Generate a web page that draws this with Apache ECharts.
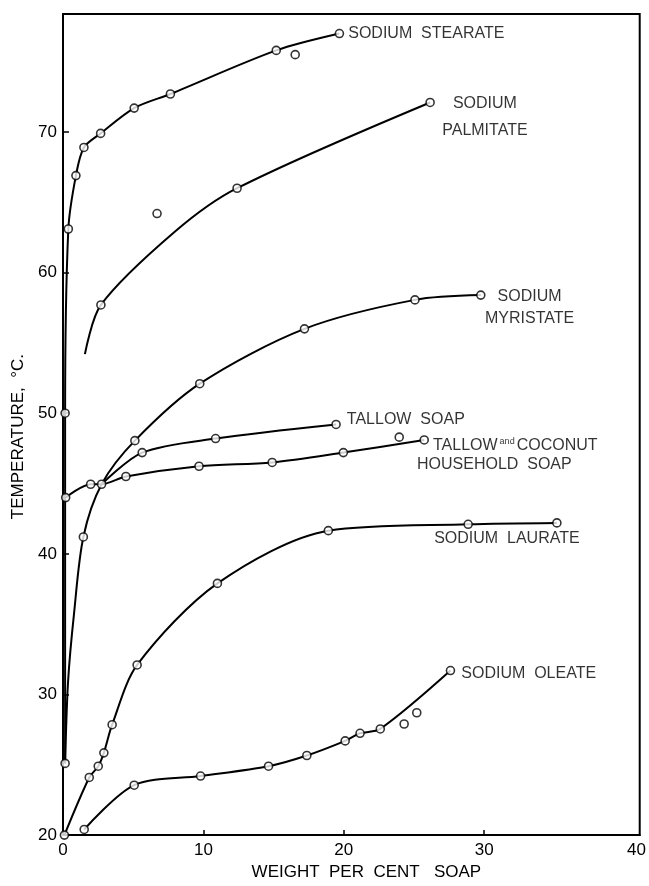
<!DOCTYPE html>
<html><head><meta charset="utf-8">
<script src="https://cdn.jsdelivr.net/npm/echarts@6/dist/echarts.min.js"></script>
<style>html,body{margin:0;padding:0;background:#fff}#c{width:649px;height:886px}</style>
</head><body><div id="c"></div>
<script>
// ---- Data (weight per cent soap, temperature °C) ----
// Curves: traced line paths; Points: measured circles
const stearateCurveX = [0.15, 0.15, 0.38, 0.92, 1.49, 2.68, 5.07, 7.65, 15.19, 19.69];
const stearateCurveY = [25.1, 50.0, 63.1, 66.9, 68.9, 69.9, 71.7, 72.7, 75.8, 77.0];
const stearatePointsX = [0.15, 0.15, 0.38, 0.92, 1.49, 2.68, 5.07, 7.65, 15.19, 16.54, 19.69];
const stearatePointsY = [25.1, 50.0, 63.1, 66.9, 68.9, 69.9, 71.7, 72.7, 75.8, 75.5, 77.0];

const palmitateCurveX = [1.56, 2.70, 7.96, 12.40, 26.15];
const palmitateCurveY = [54.2, 57.7, 62.9, 66.0, 72.1];
const palmitatePointsX = [2.70, 6.70, 12.40, 26.15];
const palmitatePointsY = [57.7, 64.2, 66.0, 72.1];

const myristateCurveX = [0.15, 0.36, 0.78, 1.45, 2.75, 5.12, 9.74, 17.2, 25.07, 29.76];
const myristateCurveY = [25.1, 30.9, 35.7, 41.2, 44.95, 48.05, 52.1, 56.0, 58.06, 58.4];
const myristatePointsX = [1.45, 2.75, 5.12, 9.74, 17.2, 25.07, 29.76];
const myristatePointsY = [41.2, 44.95, 48.05, 52.1, 56.0, 58.06, 58.4];

const tallowCurveX = [2.75, 5.64, 10.87, 19.45];
const tallowCurveY = [44.95, 47.2, 48.2, 49.2];
const tallowPointsX = [5.64, 10.87, 19.45];
const tallowPointsY = [47.2, 48.2, 49.2];

const householdCurveX = [0.19, 1.97, 2.75, 4.48, 9.69, 14.9, 19.97, 25.73];
const householdCurveY = [44.0, 44.95, 44.95, 45.5, 46.23, 46.5, 47.2, 48.1];
const householdPointsX = [0.19, 1.97, 4.48, 9.69, 14.9, 19.97, 23.95, 25.73];
const householdPointsY = [44.0, 44.95, 45.5, 46.23, 46.5, 47.2, 48.3, 48.1];

const laurateCurveX = [0.1, 1.87, 2.51, 2.91, 3.5, 5.28, 11.0, 18.9, 28.86, 35.18];
const laurateCurveY = [20.0, 24.1, 24.9, 25.85, 27.85, 32.1, 37.9, 41.65, 42.1, 42.2];
const lauratePointsX = laurateCurveX;
const lauratePointsY = laurateCurveY;

const oleateCurveX = [1.51, 5.07, 9.8, 14.64, 17.37, 20.1, 21.16, 22.6, 27.6];
const oleateCurveY = [20.4, 23.55, 24.2, 24.9, 25.66, 26.7, 27.24, 27.55, 31.7];
const oleatePointsX = [1.51, 5.07, 9.8, 14.64, 17.37, 20.1, 21.16, 22.6, 24.3, 25.2, 27.6];
const oleatePointsY = [20.4, 23.55, 24.2, 24.9, 25.66, 26.7, 27.24, 27.55, 27.9, 28.7, 31.7];

const xTickLabels = [0, 10, 20, 30, 40];
const xTickMarks = [10, 20, 30];
const yTickLabels = [20, 30, 40, 50, 60, 70];
const yTickMarks = [30, 40, 50, 60, 70];

const FONT = 'Liberation Sans';
const LBL = {color: '#000', fontFamily: FONT, fontSize: 16};

// Label settings for the end circle of each curve
const endLabels = {
  stearate: Object.assign({show: true, position: 'right', distance: 4, formatter: 'SODIUM  STEARATE'}, LBL),
  palmitate: Object.assign({show: true, position: 'right', distance: 5, align: 'center', offset: [45, 14.5], lineHeight: 27, formatter: 'SODIUM\nPALMITATE'}, LBL),
  myristate: Object.assign({show: true, position: 'right', distance: 5, align: 'center', offset: [39, 12.5], lineHeight: 22, formatter: 'SODIUM\nMYRISTATE'}, LBL),
  tallow: Object.assign({show: true, position: 'right', distance: 5, offset: [1, -5], formatter: 'TALLOW  SOAP'}, LBL),
  household: Object.assign({show: true, position: 'right', distance: 5, align: 'left', offset: [-17, 15], lineHeight: 19,
    formatter: '{p|TALLOW}{s|and}{t|COCONUT}\n{t|HOUSEHOLD  SOAP}',
    rich: {
      p: {fontFamily: FONT, fontSize: 16, color: '#000', padding: [0, 0, 0, 16], lineHeight: 19},
      s: {fontFamily: FONT, fontSize: 9, color: '#000', padding: [0, 2, 8, 2], lineHeight: 19},
      t: {fontFamily: FONT, fontSize: 16, color: '#000', lineHeight: 19}
    }}, LBL),
  laurate: Object.assign({show: true, position: 'bottom', distance: 5, offset: [-50, -2], formatter: 'SODIUM  LAURATE'}, LBL),
  oleate: Object.assign({show: true, position: 'right', distance: 6, offset: [0, 3], formatter: 'SODIUM  OLEATE'}, LBL)
};

function pairs(xs, ys) { return xs.map((x, i) => [x, ys[i]]); }

function curveSeries(name, xs, ys) {
  return {
    name: name + ' curve', type: 'line', data: pairs(xs, ys), smooth: 0.3,
    symbol: 'none', silent: true, z: 2,
    lineStyle: {color: '#000', width: 2}
  };
}
function pointSeries(name, xs, ys, labelIdx, labelCfg) {
  return {
    name: name, type: 'scatter', z: 3,
    data: xs.map((x, i) => {
      const d = {value: [x, ys[i]]};
      if (i === labelIdx) d.label = labelCfg;
      return d;
    }),
    symbol: 'circle', symbolSize: 8,
    itemStyle: {color: '#fff', borderColor: '#000', borderWidth: 1.6}
  };
}

const series = [
  curveSeries('stearate', stearateCurveX, stearateCurveY),
  pointSeries('stearate', stearatePointsX, stearatePointsY, stearatePointsX.length - 1, endLabels.stearate),
  curveSeries('palmitate', palmitateCurveX, palmitateCurveY),
  pointSeries('palmitate', palmitatePointsX, palmitatePointsY, palmitatePointsX.length - 1, endLabels.palmitate),
  curveSeries('myristate', myristateCurveX, myristateCurveY),
  pointSeries('myristate', myristatePointsX, myristatePointsY, myristatePointsX.length - 1, endLabels.myristate),
  curveSeries('tallow', tallowCurveX, tallowCurveY),
  pointSeries('tallow', tallowPointsX, tallowPointsY, tallowPointsX.length - 1, endLabels.tallow),
  curveSeries('household', householdCurveX, householdCurveY),
  pointSeries('household', householdPointsX, householdPointsY, householdPointsX.length - 1, endLabels.household),
  curveSeries('laurate', laurateCurveX, laurateCurveY),
  pointSeries('laurate', lauratePointsX, lauratePointsY, lauratePointsX.length - 1, endLabels.laurate),
  curveSeries('oleate', oleateCurveX, oleateCurveY),
  pointSeries('oleate', oleatePointsX, oleatePointsY, oleatePointsX.length - 1, endLabels.oleate)
];

const chart = echarts.init(document.getElementById('c'), null, {renderer: 'canvas'});
chart.setOption({
  animation: false,
  backgroundColor: '#fff',
  grid: {left: 63, right: 8, top: 14, bottom: 44, show: true, borderColor: '#000', borderWidth: 2, backgroundColor: 'transparent'},
  xAxis: {
    type: 'value', min: 0, max: 41.08,
    axisLine: {show: true, lineStyle: {color: '#000', width: 2}},
    axisTick: {show: true, inside: true, length: 5, customValues: xTickMarks, lineStyle: {color: '#000', width: 1.5}},
    axisLabel: {
      customValues: xTickLabels, color: '#000', fontFamily: FONT, fontSize: 17, margin: 7,
      formatter: v => (v === 40 ? '{f|40}' : String(v)),
      rich: {f: {fontFamily: FONT, fontSize: 17, color: '#000', padding: [0, 0, 0, 24]}}
    },
    splitLine: {show: false},
    name: 'WEIGHT  PER  CENT   SOAP', nameLocation: 'middle', nameGap: 27,
    nameTextStyle: {color: '#000', fontFamily: FONT, fontSize: 17, padding: [0, 0, 0, 30]}
  },
  yAxis: {
    type: 'value', min: 20, max: 78.39,
    axisLine: {show: true, lineStyle: {color: '#000', width: 2}},
    axisTick: {show: true, inside: true, length: 6, customValues: yTickMarks, lineStyle: {color: '#000', width: 1.5}},
    axisLabel: {customValues: yTickLabels, color: '#000', fontFamily: FONT, fontSize: 17, margin: 6},
    splitLine: {show: false},
    name: 'TEMPERATURE,  °C.', nameLocation: 'middle', nameGap: 34,
    nameTextStyle: {color: '#000', fontFamily: FONT, fontSize: 17, padding: [0, 24, 0, 0]}
  },
  series: series
});
</script></body></html>
